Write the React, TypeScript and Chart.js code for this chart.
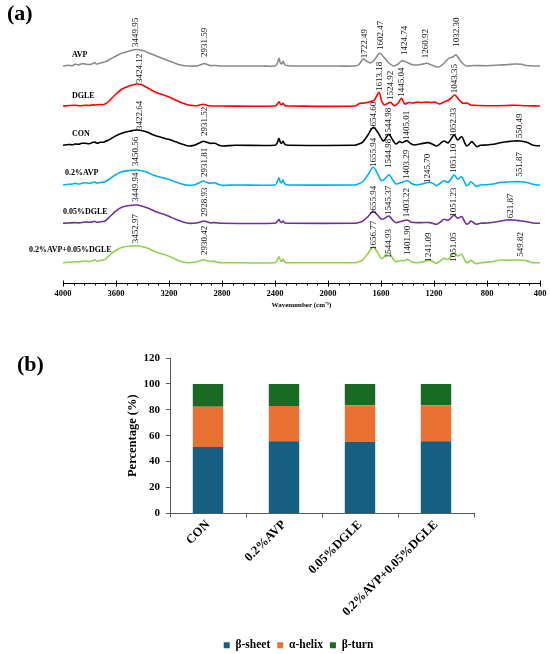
import React, { useEffect, useRef } from 'react';
import { Chart, registerables } from 'chart.js';

Chart.register(...registerables);

const FONT = '"Liberation Serif", "Times New Roman", serif';

// ---------------- Panel (a): FTIR spectra ----------------
const wavenumberTicks = [4000, 3600, 3200, 2800, 2400, 2000, 1600, 1200, 800, 400];
const minorTickStep = 80;

const seriesNames = ['AVP', 'DGLE', 'CON', '0.2%AVP', '0.05%DGLE', '0.2%AVP+0.05%DGLE'];
const seriesColors = ['#8a8a8a', '#ff0000', '#000000', '#00b0f0', '#7030a0', '#92d050'];
const seriesOffsets = [217, 177, 137.7, 98, 59.7, 20.3];

// [wavenumber, relative absorbance (a.u.)]
const avpSpectrum: [number, number][] = [
  [4000, 0], [3960, 0.8], [3930, 0.3], [3909, 1.7], [3880, 1.2], [3860, 2.2], [3834, 2], [3800, 1.5],
  [3775, 2.5], [3760, 3.5], [3750, 2], [3720, 3], [3700, 3.5], [3683, 4.3], [3665, 5], [3650, 6.5],
  [3633, 7.7], [3600, 10], [3557, 12.7], [3500, 15], [3444, 16.5], [3400, 15.5], [3356, 13.3],
  [3281, 9.3], [3205, 5.3], [3150, 2.5], [3104, 0.7], [3054, 0], [2991, 0], [2965, 1], [2941, 2.3],
  [2920, 2], [2891, 0.5], [2853, 0.5], [2802, 0], [2500, 0], [2400, 0], [2385, 2], [2370, 7.7],
  [2360, 3], [2350, 2], [2340, 4.7], [2325, 1], [2300, 0.3], [2249, 0], [2000, 0], [1800, 0],
  [1770, 1], [1734, 7], [1710, 5], [1683, 3], [1650, 6], [1612, 12.7], [1580, 9], [1540, 3],
  [1502, 0], [1470, 2], [1443, 5.3], [1410, 4], [1380, 2], [1356, 1], [1300, 1.5], [1255, 2.7],
  [1220, 1], [1169, -1], [1130, 2], [1090, 7.7], [1060, 9], [1034, 11], [1000, 5], [970, 1],
  [953, 0], [900, 0.5], [800, 0.3], [700, 1], [650, 1.3], [590, 2], [540, 1.7], [500, 0.5],
  [450, 0], [400, 0],
];
const dgleSpectrum: [number, number][] = [
  [4000, 0], [3950, 0.5], [3909, 0.7], [3870, 0.3], [3834, 0.8], [3800, 0.5], [3770, 1.2], [3758, 1],
  [3720, 1.5], [3700, 1.2], [3683, 2], [3660, 4], [3633, 7.7], [3600, 12], [3557, 16.7], [3500, 20],
  [3444, 22], [3410, 21.5], [3380, 19.5], [3356, 17.7], [3320, 15], [3281, 12.7], [3240, 11],
  [3205, 9.3], [3150, 6], [3104, 3.3], [3054, 1], [2991, 0.3], [2941, 1.7], [2900, 0.3], [2802, 0],
  [2400, 0], [2385, 1.5], [2370, 4.3], [2360, 2], [2350, 1.3], [2340, 2.7], [2325, 0.5], [2300, 0],
  [1800, 0], [1759, 2.7], [1720, 3], [1683, 4.3], [1650, 6], [1615, 13.7], [1595, 5], [1576, 1],
  [1550, 2.5], [1527, 3.7], [1500, 0.3], [1470, 3], [1446, 7.7], [1420, 2], [1390, 3.5], [1356, 3],
  [1330, 4], [1300, 3.5], [1255, 4], [1220, 3.5], [1190, 3.8], [1160, 2], [1125, 4], [1092, 6],
  [1070, 8], [1043, 11], [1010, 6], [990, 3.5], [975, 2.7], [950, 3], [923, 1], [900, 0.7],
  [800, 0.3], [650, 0.5], [600, 0.8], [500, 0.3], [400, 0],
];
const conSpectrum: [number, number][] = [
  [4000, 0], [3960, 0.8], [3930, 0.5], [3909, 1.3], [3880, 1], [3860, 2], [3834, 2], [3800, 1.5],
  [3780, 2.7], [3760, 3.2], [3740, 2], [3720, 3], [3700, 3], [3683, 3.7], [3660, 5], [3633, 7],
  [3600, 9.5], [3557, 12], [3500, 14], [3444, 15.3], [3400, 14.5], [3356, 12.7], [3320, 10.5],
  [3281, 8.7], [3240, 7.3], [3205, 6], [3150, 3.5], [3104, 1.3], [3054, -0.7], [3010, 0], [2991, 1],
  [2960, 3], [2941, 4], [2920, 3.3], [2891, 2], [2853, 2], [2830, 0.5], [2802, -0.7], [2700, 0],
  [2400, 0], [2385, 2], [2370, 6.7], [2360, 3], [2350, 2], [2340, 4], [2325, 1], [2300, 0],
  [1800, 0], [1783, 0.5], [1740, 3], [1700, 10], [1658, 18], [1620, 12], [1583, 4.3], [1560, 8],
  [1540, 11], [1510, 5], [1487, 1.3], [1460, 3.7], [1440, 2.5], [1405, 4.7], [1380, 2], [1350, 0.3],
  [1300, 1.5], [1245, 2.7], [1210, 1], [1180, -0.7], [1150, 2], [1125, 4.3], [1092, 2.5],
  [1049, 10.3], [1021, 5.3], [991, 8.7], [970, 3], [953, -0.7], [935, 1], [915, 3.7], [895, 1],
  [877, -1.3], [850, 0], [800, 0.3], [750, 1], [700, 2.5], [651, 3.5], [600, 4.3], [550, 4.3],
  [500, 3], [451, 0], [420, -0.5], [400, -0.5],
];
const avp02Spectrum: [number, number][] = [
  [4000, 0], [3960, 0.7], [3930, 1], [3909, 1.7], [3880, 1], [3850, 2], [3834, 2.3], [3800, 1.8],
  [3775, 2.5], [3760, 3], [3745, 1.8], [3720, 2.5], [3700, 2.8], [3683, 3.3], [3660, 5], [3633, 7.7],
  [3600, 10.5], [3557, 13.3], [3500, 14.5], [3444, 15], [3400, 14], [3356, 12.3], [3320, 10],
  [3281, 8.3], [3240, 7], [3205, 5.7], [3150, 3], [3104, 1], [3054, -0.3], [3010, 0], [2991, 1],
  [2960, 3], [2941, 4], [2920, 3], [2891, 1.7], [2853, 2.3], [2830, 0.8], [2802, -0.3], [2700, 0],
  [2400, 0], [2385, 2.5], [2370, 7.3], [2360, 3], [2350, 2.3], [2340, 5], [2325, 1], [2300, 0],
  [1800, 0], [1783, 0.5], [1740, 3], [1700, 10], [1658, 17.7], [1625, 11], [1595, 4.3], [1565, 7],
  [1540, 10.3], [1510, 5], [1487, 1], [1444, 2.7], [1400, 4.3], [1370, 1.5], [1331, 0], [1290, 1],
  [1233, 2.7], [1200, 1], [1180, -0.7], [1150, 2], [1125, 4.3], [1092, 2.7], [1049, 10], [1021, 6],
  [991, 8.3], [970, 3], [953, -0.7], [935, 1], [923, 3.3], [900, 1], [883, -1.3], [850, 0],
  [800, 0.3], [750, 1], [702, 2.5], [651, 3], [600, 3.3], [550, 3.3], [500, 2.5], [451, 0.7],
  [420, 0], [400, 0],
];
const dgle005Spectrum: [number, number][] = [
  [4000, 0], [3960, 0.3], [3909, 0.7], [3880, 0.4], [3834, 1.3], [3800, 1], [3775, 1.5], [3760, 2],
  [3745, 1], [3720, 1.5], [3700, 1.8], [3683, 2.3], [3660, 5], [3633, 8.3], [3600, 12.5], [3557, 16],
  [3500, 17.8], [3444, 18.3], [3400, 17], [3356, 15], [3320, 12.8], [3281, 10.7], [3240, 9],
  [3205, 7.3], [3150, 4], [3104, 1.7], [3054, 0], [2991, 0.3], [2960, 1.5], [2941, 2.3], [2920, 1.8],
  [2891, 0.5], [2853, 0.7], [2802, 0], [2400, 0], [2385, 1.5], [2370, 4], [2360, 1.5], [2350, 0.7],
  [2340, 2.3], [2325, 0.3], [2300, 0], [1800, 0], [1783, 0.3], [1740, 2], [1700, 6.5], [1658, 12.3],
  [1625, 8], [1595, 4], [1565, 5.5], [1540, 7.3], [1510, 3], [1487, 0.7], [1444, 2], [1402, 3.3],
  [1370, 1], [1300, 0.7], [1230, 0.7], [1180, -1], [1150, 1.5], [1125, 4], [1092, 3], [1049, 8],
  [1021, 5], [991, 6.7], [970, 2], [953, -1], [935, 0.5], [923, 2.3], [900, 0.5], [883, -1],
  [850, 0], [800, 0.3], [750, 1], [702, 2], [651, 3.3], [600, 3.3], [550, 2.5], [500, 1.5],
  [451, 0.3], [400, 0],
];
const comboSpectrum: [number, number][] = [
  [4000, 0], [3960, 0.5], [3930, 0.3], [3909, 1], [3880, 0.8], [3850, 1.5], [3834, 1.7], [3800, 1.2],
  [3775, 2], [3760, 2.8], [3745, 1.5], [3720, 2.2], [3700, 2.5], [3683, 3.3], [3660, 6], [3633, 9.3],
  [3600, 12.5], [3557, 15.3], [3500, 16.5], [3444, 17], [3400, 16], [3356, 14.3], [3320, 12],
  [3281, 10], [3240, 8.3], [3205, 6.7], [3150, 3.5], [3104, 1], [3054, 0], [2991, 1], [2960, 2.3],
  [2941, 3], [2920, 2.3], [2891, 1.3], [2853, 1.3], [2830, 0.3], [2802, 0], [2400, 0], [2385, 2],
  [2370, 6], [2360, 2.5], [2350, 1.3], [2340, 3.3], [2325, 0.5], [2300, 0], [1800, 0], [1783, 0.3],
  [1740, 2.5], [1700, 9], [1658, 15.7], [1625, 10], [1595, 4], [1565, 7.5], [1540, 10], [1510, 4],
  [1487, 1], [1444, 2.3], [1425, 2], [1400, 3.3], [1370, 1], [1331, 0], [1290, 0.7], [1230, 2.3],
  [1200, 0.5], [1180, -0.7], [1150, 2], [1125, 4.3], [1092, 3.3], [1049, 10], [1021, 6.7],
  [991, 8.3], [970, 3], [953, 0], [935, 1], [923, 2.3], [900, 0.5], [883, -1], [850, 0], [800, 0.5],
  [750, 1.2], [702, 2.7], [651, 2.5], [600, 2.7], [550, 2.7], [500, 1.8], [451, 0], [400, 0],
];
const spectra = [avpSpectrum, dgleSpectrum, conSpectrum, avp02Spectrum, dgle005Spectrum, comboSpectrum];

// Peak annotations (labels) and the level (a.u.) where each label starts
const avpPeaks = ['3449.95', '2931.59', '1722.49', '1602.47', '1424.74', '1260.92', '1032.30'];
const avpPeakLevels = [236, 226, 224.7, 233, 228, 224.7, 236.3];
const dglePeaks = ['3424.12', '1613.18', '1524.92', '1445.04', '1043.35'];
const dglePeakLevels = [200, 192, 183, 186.3, 189.7];
const conPeaks = ['3422.64', '2931.52', '1654.60', '1544.98', '1405.01', '1052.33', '550.49'];
const conPeakLevels = [153, 147, 152, 146, 143, 146, 144.7];
const avp02Peaks = ['3450.56', '2931.81', '1655.94', '1544.98', '1403.29', '1245.70', '1051.10', '551.87'];
const avp02PeakLevels = [117, 106, 116, 115, 104, 100, 110, 106.3];
const dgle005Peaks = ['3449.94', '2928.93', '1655.94', '1545.37', '1403.22', '1051.23', '621.87'];
const dgle005PeakLevels = [81.3, 66.3, 68, 68, 65.7, 66.3, 64.7];
const comboPeaks = ['3452.97', '2930.42', '1656.77', '1544.93', '1401.90', '1241.09', '1051.05', '549.82'];
const comboPeakLevels = [39.7, 28, 33, 24.7, 28, 21.3, 21.3, 26.3];
const peakLabels = [avpPeaks, dglePeaks, conPeaks, avp02Peaks, dgle005Peaks, comboPeaks];
const peakLevels = [avpPeakLevels, dglePeakLevels, conPeakLevels, avp02PeakLevels, dgle005PeakLevels, comboPeakLevels];

// Series name label anchors: start wavenumber and level
const nameStart = [3932, 3932, 3932, 3985, 4000, 4257];
const nameLevel = [228, 187.3, 148.7, 109.7, 70.7, 33];

// ---------------- Panel (b): secondary structure ----------------
const groups = ['CON', '0.2%AVP', '0.05%DGLE', '0.2%AVP+0.05%DGLE'];
const betaSheet = [51.2, 55.8, 55.3, 55.8];
const alphaHelix = [31.2, 27.2, 28.3, 27.7];
const betaTurn = [17.6, 17.0, 16.4, 16.5];
const percentTicks = [0, 20, 40, 60, 80, 100, 120];

const panelLabel = (text: string, x: number, y: number) => ({
  id: 'panelLabel',
  afterDraw(chart: any) {
    const ctx = chart.ctx;
    ctx.save();
    ctx.font = `bold 22px ${FONT}`;
    ctx.fillStyle = '#000';
    ctx.textAlign = 'left';
    ctx.textBaseline = 'middle';
    ctx.fillText(text, x, y);
    ctx.restore();
  },
});

const spectraDecor = {
  id: 'spectraDecor',
  afterDraw(chart: any) {
    const ctx = chart.ctx;
    const xs = chart.scales.x;
    const ys = chart.scales.y;
    const axisY = Math.round(chart.chartArea.bottom) + 0.5;
    ctx.save();
    ctx.strokeStyle = '#000';
    ctx.lineWidth = 1;
    for (let v = 400; v <= 4000; v += minorTickStep) {
      const px = Math.round(xs.getPixelForValue(v)) + 0.5;
      const major = wavenumberTicks.includes(v);
      ctx.beginPath();
      ctx.moveTo(px, axisY - (major ? 3 : 0));
      ctx.lineTo(px, axisY + (major ? 3 : 2));
      ctx.stroke();
    }
    // peak annotations
    ctx.fillStyle = '#111';
    ctx.font = `9px ${FONT}`;
    ctx.textAlign = 'left';
    ctx.textBaseline = 'middle';
    peakLabels.forEach((labels, si) => {
      labels.forEach((lab, i) => {
        const x = xs.getPixelForValue(parseFloat(lab));
        const y = ys.getPixelForValue(peakLevels[si][i]);
        ctx.save();
        ctx.translate(x, y);
        ctx.rotate(-Math.PI / 2);
        ctx.fillText(lab, 0, 0);
        ctx.restore();
      });
    });
    // series names
    ctx.fillStyle = '#000';
    ctx.font = `bold 8px ${FONT}`;
    seriesNames.forEach((name, i) => {
      ctx.fillText(name, xs.getPixelForValue(nameStart[i]), ys.getPixelForValue(nameLevel[i]));
    });
    ctx.restore();
  },
};

function SpectraChart() {
  const ref = useRef<HTMLCanvasElement>(null);
  useEffect(() => {
    const chart = new Chart(ref.current as HTMLCanvasElement, {
      type: 'line',
      data: {
        datasets: spectra.map((s, i) => ({
          label: seriesNames[i],
          data: s.map(([w, h]) => ({ x: w, y: h + seriesOffsets[i] })),
          borderColor: seriesColors[i],
          borderWidth: 1.6,
          pointRadius: 0,
          tension: 0.3,
          fill: false,
        })),
      },
      options: {
        animation: false,
        responsive: false,
        events: [],
        layout: { padding: { left: 63, right: 10, top: 20, bottom: 10.8 } },
        plugins: { legend: { display: false }, tooltip: { enabled: false } },
        scales: {
          x: {
            type: 'linear',
            reverse: true,
            min: 400,
            max: 4000,
            afterBuildTicks: (sc: any) => {
              sc.ticks = [...wavenumberTicks].sort((a, b) => a - b).map((v) => ({ value: v }));
            },
            grid: { display: false, drawTicks: false },
            border: { display: true, color: '#000', width: 1 },
            ticks: {
              padding: 6,
              color: '#000',
              autoSkip: false,
              maxRotation: 0,
              font: { family: FONT, size: 8.5, weight: 'bold' },
              callback: (v: any) => String(v),
            },
            title: {
              display: true,
              text: 'Wavenumber (cm⁻¹)',
              color: '#000',
              font: { family: FONT, size: 7, weight: 'bold' },
              padding: { top: 0, bottom: 0 },
            },
            afterFit: (sc: any) => {
              sc.height = 26.2;
            },
          },
          y: { display: false, min: 0, max: 263 },
        },
      } as any,
      plugins: [spectraDecor, panelLabel('(a)', 7, 14)],
    });
    return () => chart.destroy();
  }, []);
  return <canvas ref={ref} width={550} height={320} style={{ display: 'block', width: 550, height: 320 }} />;
}

function StructureChart() {
  const ref = useRef<HTMLCanvasElement>(null);
  useEffect(() => {
    const chart = new Chart(ref.current as HTMLCanvasElement, {
      type: 'bar',
      data: {
        labels: groups,
        datasets: [
          { label: 'β-sheet', data: betaSheet, backgroundColor: '#156082', borderWidth: 0 },
          { label: 'α-helix', data: alphaHelix, backgroundColor: '#e97132', borderWidth: 0 },
          { label: 'β-turn', data: betaTurn, backgroundColor: '#196b24', borderWidth: 0 },
        ],
      },
      options: {
        animation: false,
        responsive: false,
        events: [],
        layout: { padding: { left: 123, right: 76, top: 38, bottom: -7 } },
        datasets: { bar: { categoryPercentage: 1, barPercentage: 0.4 } },
        plugins: {
          tooltip: { enabled: false },
          legend: {
            position: 'bottom',
            labels: {
              boxWidth: 6,
              boxHeight: 6,
              padding: 7,
              color: '#000',
              font: { family: FONT, size: 11.5, weight: 'bold' },
            },
          },
        },
        scales: {
          x: {
            stacked: true,
            grid: { display: true, drawOnChartArea: false, drawTicks: true, tickLength: 4, color: '#595959', offset: true },
            border: { color: '#595959', width: 1 },
            ticks: {
              minRotation: 45,
              maxRotation: 45,
              autoSkip: false,
              padding: 0,
              color: '#000',
              font: { family: FONT, size: 12.5, weight: 'bold' },
            },
            afterFit: (sc: any) => {
              sc.height = 119.1;
            },
          },
          y: {
            stacked: true,
            min: 0,
            max: 120,
            afterBuildTicks: (sc: any) => {
              sc.ticks = percentTicks.map((v) => ({ value: v }));
            },
            ticks: { padding: 6, color: '#000', font: { family: FONT, size: 11, weight: 'bold' } },
            grid: { drawOnChartArea: false, drawTicks: true, tickLength: 4, color: '#595959' },
            border: { color: '#595959', width: 1 },
            title: {
              display: true,
              text: 'Percentage (%)',
              color: '#000',
              font: { family: FONT, size: 12.5, weight: 'bold' },
              padding: { top: 2.5, bottom: 0 },
            },
            afterFit: (sc: any) => {
              sc.width = 47;
            },
          },
        },
      } as any,
      plugins: [panelLabel('(b)', 17, 45)],
    });
    return () => chart.destroy();
  }, []);
  return <canvas ref={ref} width={550} height={334} style={{ display: 'block', width: 550, height: 334 }} />;
}

export default function App() {
  return (
    <div style={{ position: 'absolute', left: 0, top: 0, width: 550, height: 654, background: '#fff' }}>
      <SpectraChart />
      <StructureChart />
    </div>
  );
}
